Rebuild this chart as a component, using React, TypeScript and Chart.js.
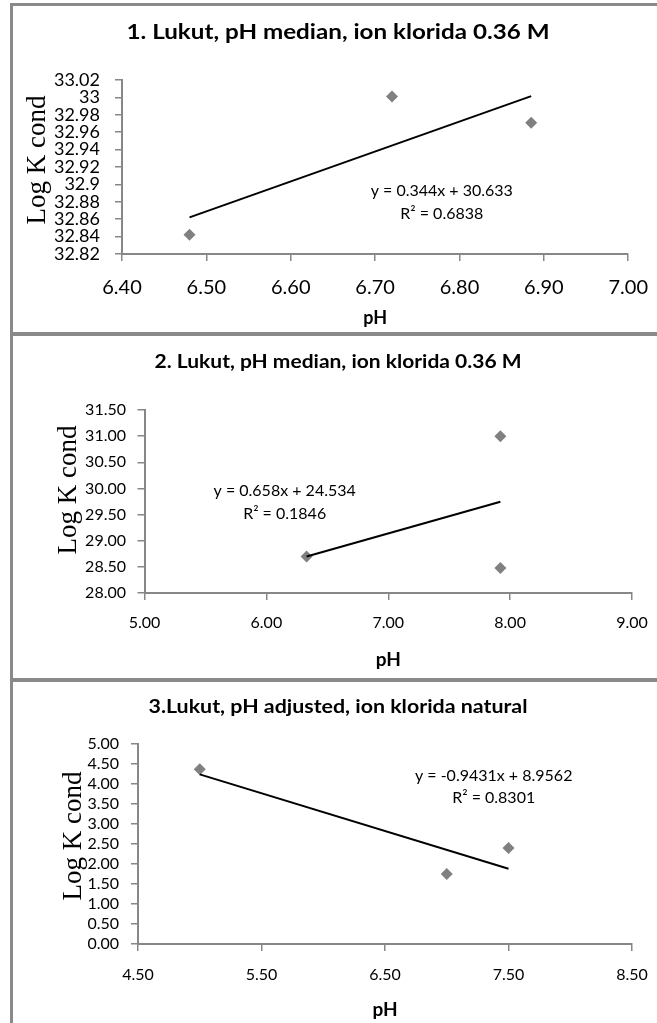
import React, { useEffect, useRef } from "react";
import { Chart, registerables } from "chart.js";

Chart.register(...registerables);

// ---------- Data ----------
// Panel 1
const P1_TITLE = "1. Lukut, pH median, ion klorida 0.36 M";
const P1_PH = [6.48, 6.72, 6.885];
const P1_LOGK = [32.842, 33.001, 32.971];
const P1_FIT = [0.344, 30.633]; // slope, intercept
const P1_EQ = ["y = 0.344x + 30.633", "R² = 0.6838"];
const P1_X_TICKS = [6.4, 7.0, 0.1]; // min, max, step
const P1_Y_TICKS = [32.82, 33.02, 0.02];

// Panel 2
const P2_TITLE = "2. Lukut, pH median, ion klorida 0.36 M";
const P2_PH = [6.33, 7.92, 7.92];
const P2_LOGK = [28.7, 31.0, 28.48];
const P2_FIT = [0.658, 24.534];
const P2_EQ = ["y = 0.658x + 24.534", "R² = 0.1846"];
const P2_X_TICKS = [5.0, 9.0, 1.0];
const P2_Y_TICKS = [28.0, 31.5, 0.5];

// Panel 3
const P3_TITLE = "3.Lukut, pH adjusted, ion klorida natural";
const P3_PH = [5.0, 7.0, 7.5];
const P3_LOGK = [4.37, 1.75, 2.4];
const P3_FIT = [-0.9431, 8.9562];
const P3_EQ = ["y = -0.9431x + 8.9562", "R² = 0.8301"];
const P3_X_TICKS = [4.5, 8.5, 1.0];
const P3_Y_TICKS = [0.0, 5.0, 0.5];

const X_TITLE = "pH";
const Y_TITLE = "Log K cond";

// ---------- Layout / style ----------
const AXIS_GREY = "#878787";
const MARKER_GREY = "#808080";
const SANS = "Lato";
const SERIF = '"Liberation Serif", "Times New Roman", serif';

const fmt2 = (v: number) => Number(v).toFixed(2);
const fmtGeneral = (v: number) => String(parseFloat(Number(v).toFixed(2)));

type PanelSpec = {
  title: string;
  xs: number[];
  ys: number[];
  fit: number[];
  eq: string[];
  xt: number[];
  yt: number[];
  yFmt: (v: number) => string;
  // layout
  left: number;
  top: number;
  w: number;
  h: number;
  area: { left: number; right: number; top: number; bottom: number };
  titleSize: number;
  titleWidth: number;
  titleY: number;
  xTickSize: number;
  yTickSize: number;
  xTickPad: number;
  yTickPad: number;
  phY: number;
  phSize: number;
  logX: number;
  logY: number;
  eqPos: number[]; // data coords of first line
  eqPos2: number[];
  eqSize: number;
};

const PANELS: PanelSpec[] = [
  {
    title: P1_TITLE, xs: P1_PH, ys: P1_LOGK, fit: P1_FIT, eq: P1_EQ,
    xt: P1_X_TICKS, yt: P1_Y_TICKS, yFmt: fmtGeneral,
    left: 13, top: 6, w: 650, h: 326,
    area: { left: 109, right: 619, top: 74, bottom: 248 },
    titleSize: 21, titleWidth: 423, titleY: 26, xTickSize: 20, yTickSize: 18, xTickPad: 15, yTickPad: 15,
    phY: 312, phSize: 18, logX: 32, logY: 154,
    eqPos: [6.779, 32.893], eqPos2: [6.779, 32.866], eqSize: 16,
  },
  {
    title: P2_TITLE, xs: P2_PH, ys: P2_LOGK, fit: P2_FIT, eq: P2_EQ,
    xt: P2_X_TICKS, yt: P2_Y_TICKS, yFmt: fmt2,
    left: 13, top: 336, w: 650, h: 341,
    area: { left: 131.5, right: 619, top: 74, bottom: 257 },
    titleSize: 19, titleWidth: 367, titleY: 26, xTickSize: 16, yTickSize: 16, xTickPad: 13, yTickPad: 11.5,
    phY: 324, phSize: 19, logX: 63, logY: 154,
    eqPos: [6.15, 29.95], eqPos2: [6.15, 29.51], eqSize: 16,
  },
  {
    title: P3_TITLE, xs: P3_PH, ys: P3_LOGK, fit: P3_FIT, eq: P3_EQ,
    xt: P3_X_TICKS, yt: P3_Y_TICKS, yFmt: fmt2,
    left: 13, top: 682, w: 650, h: 341,
    area: { left: 125, right: 619, top: 62, bottom: 262 },
    titleSize: 19, titleWidth: 379, titleY: 25, xTickSize: 16, yTickSize: 16, xTickPad: 14, yTickPad: 12,
    phY: 328, phSize: 19, logX: 68, logY: 154,
    eqPos: [7.38, 4.2], eqPos2: [7.38, 3.65], eqSize: 16,
  },
];

function Panel({ spec }: { spec: PanelSpec }) {
  const ref = useRef<HTMLCanvasElement>(null);

  useEffect(() => {
    const canvas = ref.current;
    if (!canvas) return;
    const s = spec;
    const points = s.xs.map((x, i) => ({ x, y: s.ys[i] }));
    const xMin = Math.min(...s.xs);
    const xMax = Math.max(...s.xs);
    const trend = [
      { x: xMin, y: s.fit[0] * xMin + s.fit[1] },
      { x: xMax, y: s.fit[0] * xMax + s.fit[1] },
    ];

    const textPlugin = {
      id: "panelText",
      afterDraw(chart: any) {
        const { ctx, chartArea, scales } = chart;
        ctx.save();
        ctx.fillStyle = "#000";
        ctx.textAlign = "center";
        ctx.textBaseline = "middle";
        // title, stretched horizontally to the reference width
        ctx.font = `bold ${s.titleSize}px ${SANS}`;
        const tw = ctx.measureText(s.title).width;
        ctx.save();
        ctx.translate(325, s.titleY);
        ctx.scale(s.titleWidth / tw, 1);
        ctx.fillText(s.title, 0, 0);
        ctx.restore();
        ctx.font = `bold ${s.phSize}px ${SANS}`;
        ctx.fillText(X_TITLE, (chartArea.left + chartArea.right) / 2, s.phY);
        ctx.font = `${s.eqSize}px ${SANS}`;
        ctx.fillText(
          s.eq[0],
          scales.x.getPixelForValue(s.eqPos[0]),
          scales.y.getPixelForValue(s.eqPos[1])
        );
        ctx.fillText(
          s.eq[1],
          scales.x.getPixelForValue(s.eqPos2[0]),
          scales.y.getPixelForValue(s.eqPos2[1])
        );
        ctx.translate(s.logX, s.logY);
        ctx.rotate(-Math.PI / 2);
        ctx.textBaseline = "alphabetic";
        ctx.font = `27px ${SERIF}`;
        ctx.fillText(Y_TITLE, 0, 0);
        ctx.restore();
      },
    };

    const chart = new Chart(canvas, {
      type: "scatter",
      data: {
        datasets: [
          {
            data: trend,
            showLine: true,
            borderColor: "#000",
            borderWidth: 2,
            pointRadius: 0,
            fill: false,
          } as any,
          {
            data: points,
            showLine: false,
            pointStyle: "rectRot",
            pointRadius: 6,
            backgroundColor: MARKER_GREY,
            borderColor: MARKER_GREY,
            borderWidth: 0,
          } as any,
        ],
      },
      options: {
        animation: false,
        responsive: false,
        maintainAspectRatio: false,
        events: [],
        layout: {
          padding: {
            left: 0,
            top: s.area.top,
            right: s.w - s.area.right,
            bottom: 0,
          },
        },
        plugins: {
          legend: { display: false },
          tooltip: { enabled: false },
          title: { display: false },
        },
        scales: {
          x: {
            type: "linear",
            position: "bottom",
            min: s.xt[0],
            max: s.xt[1],
            afterFit: (scale: any) => {
              scale.height = s.h - s.area.bottom;
            },
            ticks: {
              stepSize: s.xt[2],
              autoSkip: false,
              maxRotation: 0,
              color: "#000",
              padding: s.xTickPad,
              font: { family: SANS, size: s.xTickSize },
              callback: (v: any) => fmt2(v),
            },
            grid: {
              drawOnChartArea: false,
              drawTicks: true,
              tickLength: 7,
              color: AXIS_GREY,
              lineWidth: 1.5,
            },
            border: { display: true, color: AXIS_GREY, width: 2 },
          },
          y: {
            type: "linear",
            position: "left",
            min: s.yt[0],
            max: s.yt[1],
            afterFit: (scale: any) => {
              scale.width = s.area.left;
            },
            ticks: {
              stepSize: s.yt[2],
              autoSkip: false,
              color: "#000",
              padding: s.yTickPad,
              font: { family: SANS, size: s.yTickSize },
              callback: (v: any) => s.yFmt(v),
            },
            grid: {
              drawOnChartArea: false,
              drawTicks: true,
              tickLength: 7,
              color: AXIS_GREY,
              lineWidth: 1.5,
            },
            border: { display: true, color: AXIS_GREY, width: 2 },
          },
        },
      } as any,
      plugins: [textPlugin],
    });
    return () => chart.destroy();
  }, [spec]);

  return (
    <canvas
      ref={ref}
      width={spec.w}
      height={spec.h}
      style={{
        position: "absolute",
        left: spec.left,
        top: spec.top,
        width: spec.w,
        height: spec.h,
        display: "block",
      }}
    />
  );
}

export default function App() {
  const line = (style: React.CSSProperties) => (
    <div style={{ position: "absolute", background: "#8a8a8a", ...style }} />
  );
  return (
    <div
      style={{
        position: "absolute",
        left: 0,
        top: 0,
        width: 657,
        height: 1023,
        overflow: "hidden",
        background: "#fff",
      }}
    >
      {PANELS.map((p, i) => (
        <Panel key={i} spec={p} />
      ))}
      {line({ left: 10, top: 3, width: 3, height: 1020 })}
      {line({ left: 10, top: 3, width: 660, height: 3 })}
      {line({ left: 10, top: 332, width: 660, height: 4 })}
      {line({ left: 10, top: 678, width: 660, height: 4 })}
    </div>
  );
}
